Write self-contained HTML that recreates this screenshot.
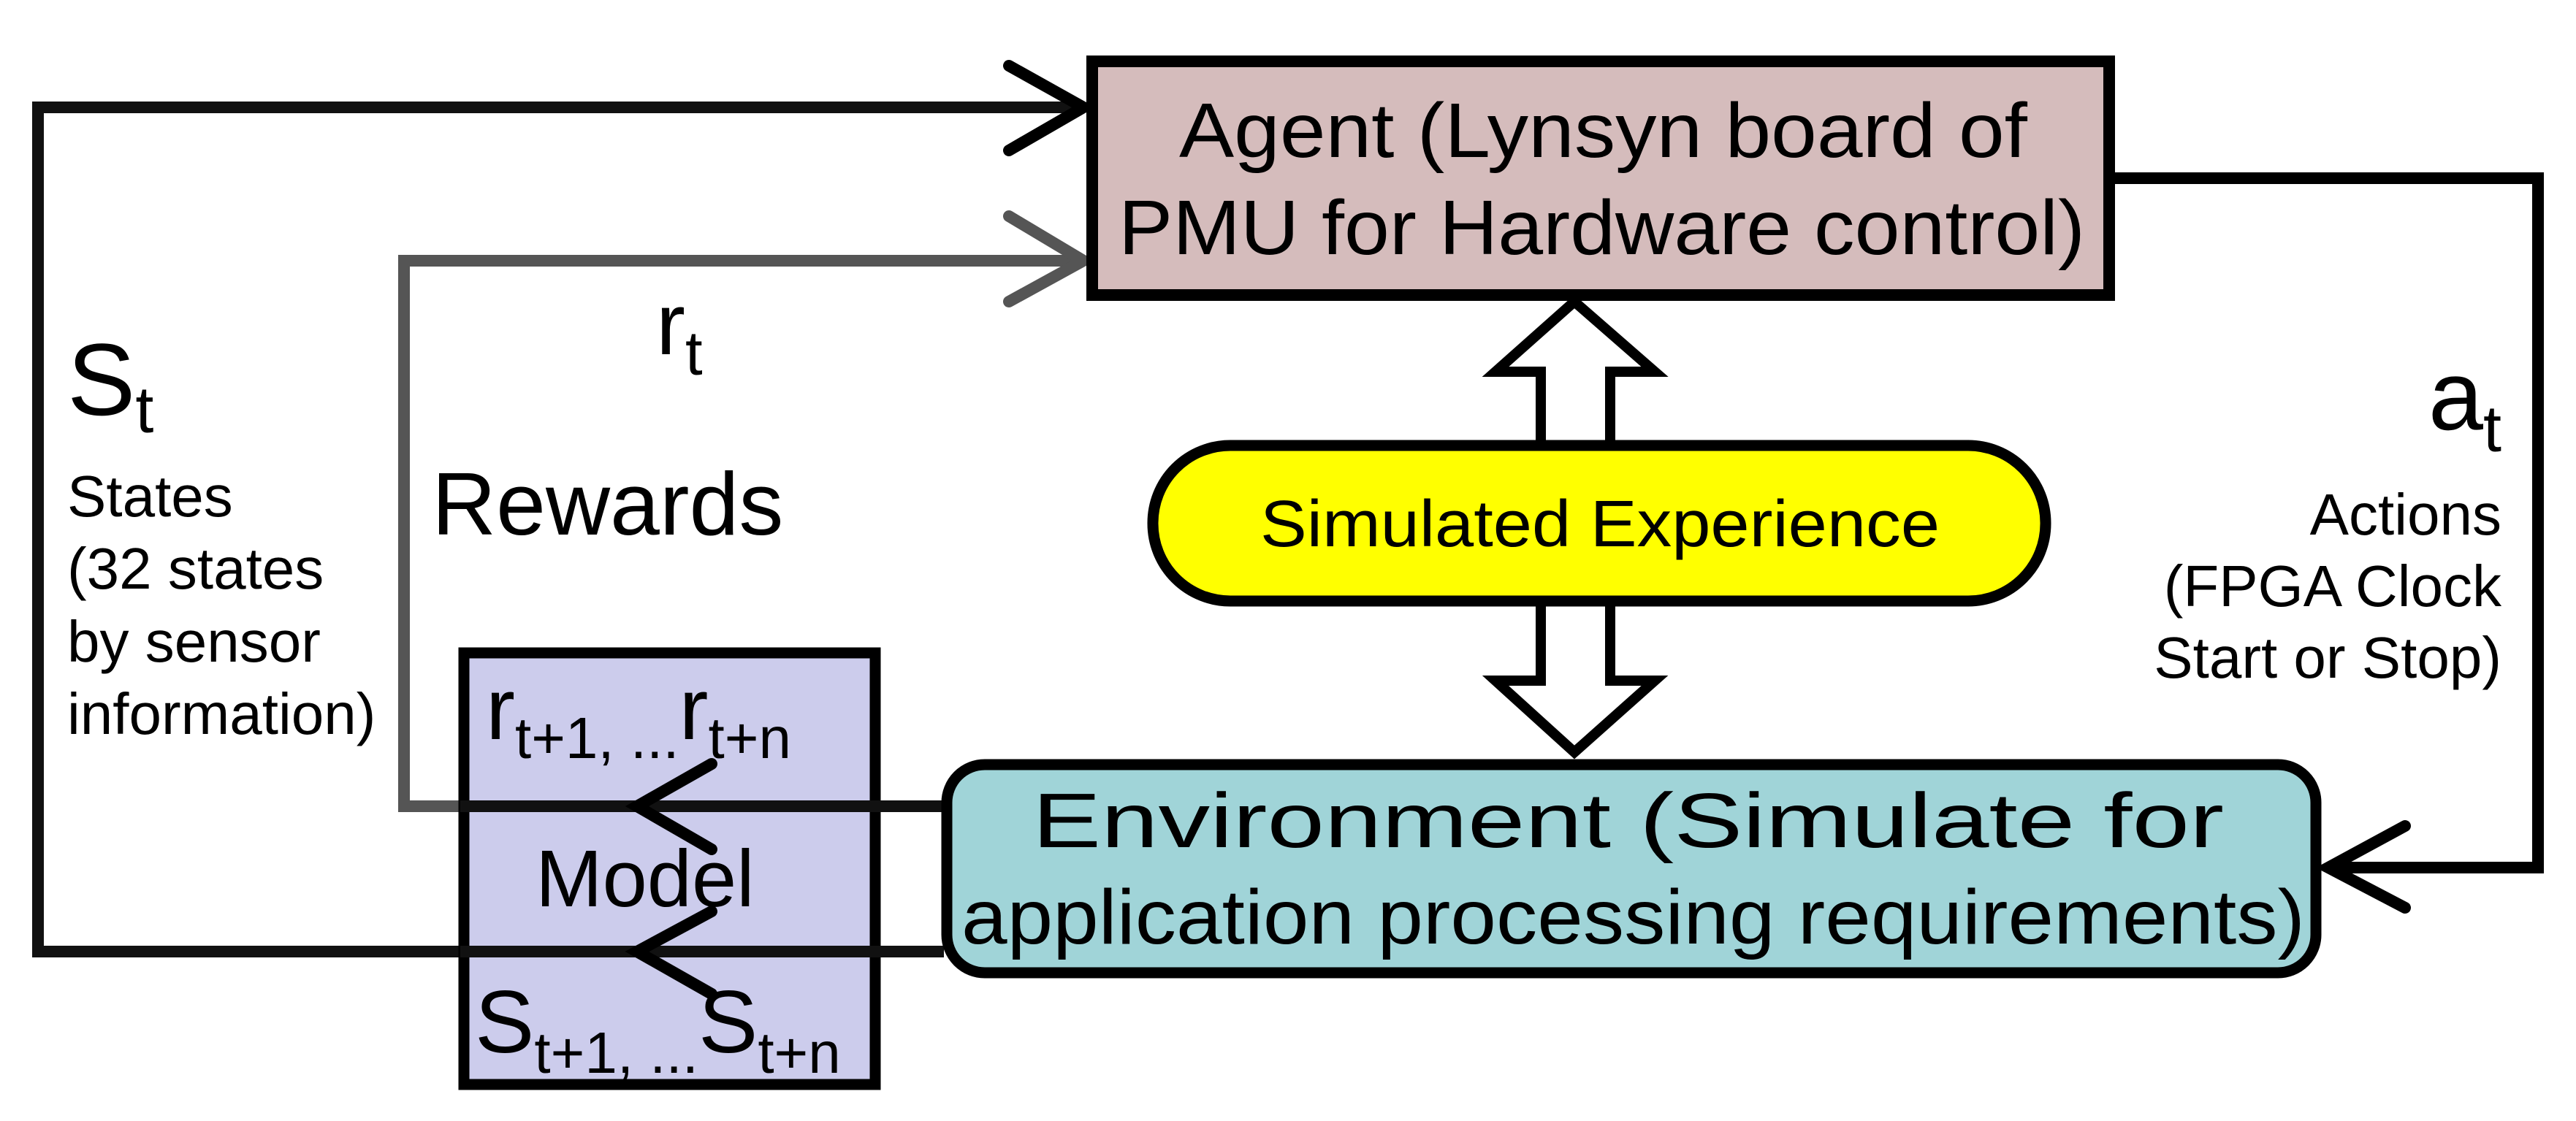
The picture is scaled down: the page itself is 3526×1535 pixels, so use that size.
<!DOCTYPE html>
<html><head><meta charset="utf-8"><style>
html,body{margin:0;padding:0;background:#fff}
svg{display:block}
text{font-family:"Liberation Sans",Arial,sans-serif;fill:#000}
</style></head><body>
<svg width="3526" height="1535" viewBox="0 0 3526 1535" xmlns="http://www.w3.org/2000/svg">
<!-- S_t loop -->
<polyline points="1483,147 52,147 52,1303 640,1303" fill="none" stroke="#111" stroke-width="16"/>
<polyline points="1381,90 1483,147 1381,206" fill="none" stroke="#000" stroke-width="16" stroke-linecap="round" stroke-linejoin="miter"/>
<!-- r_t loop -->
<polyline points="1483,357 553,357 553,1104 640,1104" fill="none" stroke="#555" stroke-width="16"/>
<polyline points="1381,296 1483,357 1381,413" fill="none" stroke="#555" stroke-width="16" stroke-linecap="round"/>
<!-- a_t loop -->
<polyline points="2895,244 3474,244 3474,1188 3185,1188" fill="none" stroke="#000" stroke-width="16"/>
<polyline points="3292,1131 3187,1188 3292,1243" fill="none" stroke="#000" stroke-width="16" stroke-linecap="round"/>

<!-- Model box -->
<rect x="635" y="894" width="563" height="591" fill="#ccccec" stroke="#000" stroke-width="15"/>
<!-- lines from env to model -->
<line x1="630" y1="1104" x2="1292" y2="1104" stroke="#111" stroke-width="16"/>
<line x1="630" y1="1303" x2="1292" y2="1303" stroke="#111" stroke-width="16"/>
<polyline points="974,1046 872,1104 974,1163" fill="none" stroke="#000" stroke-width="16" stroke-linecap="round"/>
<polyline points="974,1248 872,1303 974,1361" fill="none" stroke="#000" stroke-width="16" stroke-linecap="round"/>
<text x="665" y="1012" font-size="120">r<tspan font-size="80" dy="26">t+1, ...</tspan><tspan font-size="120" dy="-26">r</tspan><tspan font-size="80" dy="26">t+n</tspan></text>
<text x="733" y="1241" font-size="110">Model</text>
<text x="650" y="1441" font-size="122">S<tspan font-size="80" dy="28">t+1, ...</tspan><tspan font-size="122" dy="-28">S</tspan><tspan font-size="80" dy="28">t+n</tspan></text>

<!-- Agent box -->
<rect x="1495" y="84" width="1392" height="320" fill="#d5bcbc" stroke="#000" stroke-width="16"/>
<text x="1614" y="215" font-size="106" textLength="1161" lengthAdjust="spacingAndGlyphs">Agent (Lynsyn board of</text>
<text x="1531" y="348" font-size="106" textLength="1323" lengthAdjust="spacingAndGlyphs">PMU for Hardware control)</text>

<!-- double arrows -->
<polygon points="2155,413 2265,509 2204,509 2204,612 2109,612 2109,509 2047,509" fill="#fff" stroke="#000" stroke-width="14" stroke-linejoin="miter"/>
<polygon points="2155,1030 2265,932 2204,932 2204,822 2109,822 2109,932 2047,932" fill="#fff" stroke="#000" stroke-width="14" stroke-linejoin="miter"/>

<!-- Pill -->
<rect x="1578" y="610" width="1222" height="213" rx="106" ry="106" fill="#ffff00" stroke="#000" stroke-width="15"/>
<text x="1725" y="748" font-size="90" textLength="930" lengthAdjust="spacingAndGlyphs">Simulated Experience</text>

<!-- Env box -->
<rect x="1296" y="1047" width="1874" height="285" rx="52" ry="52" fill="#a0d4d8" stroke="#000" stroke-width="15"/>
<text x="1413" y="1160" font-size="106" textLength="1631" lengthAdjust="spacingAndGlyphs">Environment (Simulate for</text>
<text x="1316" y="1292" font-size="106" textLength="1839" lengthAdjust="spacingAndGlyphs">application processing requirements)</text>

<!-- labels -->
<text x="92" y="568" font-size="140">S<tspan font-size="90" dy="24">t</tspan></text>
<text x="92" y="707" font-size="80">States</text>
<text x="92" y="806" font-size="80">(32 states</text>
<text x="92" y="906" font-size="80">by sensor</text>
<text x="92" y="1005" font-size="80">information)</text>
<text x="898" y="485" font-size="120">r<tspan font-size="85" dy="28">t</tspan></text>
<text x="591" y="732" font-size="122">Rewards</text>
<text x="3424" y="588" font-size="135" text-anchor="end">a<tspan font-size="90" dy="30">t</tspan></text>
<text x="3424" y="732" font-size="80" text-anchor="end">Actions</text>
<text x="3424" y="830" font-size="80" text-anchor="end">(FPGA Clock</text>
<text x="3424" y="928" font-size="80" text-anchor="end">Start or Stop)</text>
</svg>
</body></html>
